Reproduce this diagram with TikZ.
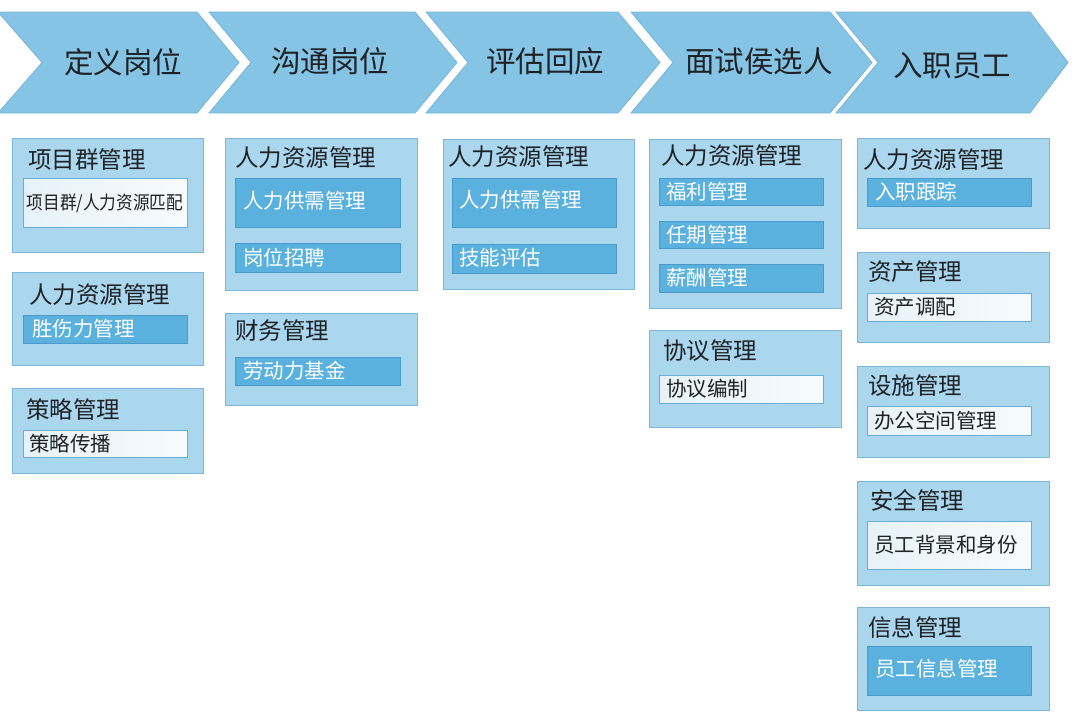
\documentclass[tikz,border=0pt]{standalone}
\usepackage{fontspec}
\setmainfont{Noto Sans CJK SC}
\definecolor{chev}{HTML}{86C4E5}
\definecolor{chevline}{HTML}{78B6D9}
\definecolor{outerfill}{HTML}{AAD6EE}
\definecolor{outerline}{HTML}{7DB6D6}
\definecolor{darkfill}{HTML}{5BB1DD}
\definecolor{darkline}{HTML}{4A9ACB}
\definecolor{lightfillA}{HTML}{E6F2F9}
\definecolor{lightfillB}{HTML}{F7FBFD}
\definecolor{lightline}{HTML}{6AAED6}
\definecolor{ink}{HTML}{1E2226}
\tikzset{
  chevshape/.style={fill=chev, draw=chevline, line width=0.8pt},
  chevtext/.style={font=\fontsize{29.5}{32}\selectfont, text=ink, inner sep=0pt},
  outerbox/.style={draw=outerline, fill=outerfill, line width=1.2pt, anchor=north west, inner sep=0pt},
  darkbox/.style={draw=darkline, fill=darkfill, line width=1pt, anchor=north west, inner sep=0pt},
  lightbox/.style={draw=lightline, left color=lightfillA, right color=lightfillB, line width=1pt, anchor=north west, inner sep=0pt},
  titletext/.style={anchor=west, font=\fontsize{23.5}{26}\selectfont, text=ink, inner sep=0pt},
  darktext/.style={anchor=west, font=\fontsize{20.5}{23}\selectfont, text=white, inner sep=0pt},
  lighttext/.style={anchor=west, font=\fontsize{20.5}{23}\selectfont, text=ink, inner sep=0pt},
}
\newcommand{\bx}[6]{\node[#1, minimum width=#5pt, minimum height=#6pt] (#2) at (#3,#4) {};}
\newcommand{\chevron}[3]{%
  \path[chevshape] (#1,12) -- (#2,12) -- (#3,62.5) -- (#2,113) -- (#1,113) -- ({#1+42},62.5) -- cycle;}
\begin{document}
\begin{tikzpicture}[x=1pt,y=-1pt]
\useasboundingbox[fill=white] (0,0) rectangle (1080,718);
% chevrons
\path[chevshape] (-2,12) -- (197,12) -- (239,62.5) -- (197,113) -- (-2,113) -- (42,62.5) -- cycle;
\chevron{209}{415}{457}
\chevron{426}{618}{660}
\chevron{631}{830}{872}
\chevron{836}{1030}{1068}
\node[chevtext] (c1) at (123,62) {定义岗位};
\node[chevtext] (c2) at (330,61) {沟通岗位};
\node[chevtext] (c3) at (545,61) {评估回应};
\node[chevtext] (c4) at (759,61) {面试侯选人};
\node[chevtext] (c5) at (952,66) {入职员工};
% column 1
\bx{outerbox}{b11}{12}{138}{191}{114}
\node[titletext] (t11) at (28,160) {项目群管理};
\bx{lightbox}{i11}{23}{178}{164}{49}
\node[font=\fontsize{18.5}{21}\selectfont, text=ink, inner sep=0pt] (s11) at (105,203) {\scalebox{0.9}[1]{项目群/人力资源匹配}};
\bx{outerbox}{b12}{12}{272}{191}{93}
\node[titletext] (t12) at (29,295) {人力资源管理};
\bx{darkbox}{i12}{23}{315}{164}{28}
\node[darktext] (s12) at (32,329) {胜伤力管理};
\bx{outerbox}{b13}{12}{388}{191}{85}
\node[titletext] (t13) at (26,410) {策略管理};
\bx{lightbox}{i13}{23}{430}{164}{27}
\node[lighttext] (s13) at (29,443.5) {策略传播};
% column 2
\bx{outerbox}{b21}{225}{138}{192}{152}
\node[titletext] (t21) at (235,158) {人力资源管理};
\bx{darkbox}{i21}{235}{178}{165}{49}
\node[darktext] (s21) at (243,201) {人力供需管理};
\bx{darkbox}{i22}{235}{243}{165}{29}
\node[darktext] (s22) at (243,257.5) {岗位招聘};
\bx{outerbox}{b22}{225}{313}{192}{92}
\node[titletext] (t22) at (235,331) {财务管理};
\bx{darkbox}{i23}{235}{357}{165}{28}
\node[darktext] (s23) at (243,371) {劳动力基金};
% column 3
\bx{outerbox}{b31}{443}{139}{191}{150}
\node[titletext] (t31) at (448,157) {人力资源管理};
\bx{darkbox}{i31}{452}{178}{164}{49}
\node[darktext] (s31) at (459,200) {人力供需管理};
\bx{darkbox}{i32}{452}{244}{164}{29}
\node[darktext] (s32) at (459,258) {技能评估};
% column 4
\bx{outerbox}{b41}{649}{139}{192}{169}
\node[titletext] (t41) at (661,156) {人力资源管理};
\bx{darkbox}{i41}{659}{178}{164}{27}
\node[darktext] (s41) at (666,191.5) {福利管理};
\bx{darkbox}{i42}{659}{221}{164}{27}
\node[darktext] (s42) at (666,234.5) {任期管理};
\bx{darkbox}{i43}{659}{264}{164}{28}
\node[darktext] (s43) at (666,278) {薪酬管理};
\bx{outerbox}{b42}{649}{330}{192}{97}
\node[titletext] (t42) at (663,351) {协议管理};
\bx{lightbox}{i44}{659}{375}{164}{28}
\node[lighttext] (s44) at (666,389) {协议编制};
% column 5
\bx{outerbox}{b51}{857}{138}{192}{90}
\node[titletext] (t51) at (863,160) {人力资源管理};
\bx{darkbox}{i51}{867}{178}{164}{28}
\node[darktext] (s51) at (875,192) {入职跟踪};
\bx{outerbox}{b52}{857}{252}{192}{90}
\node[titletext] (t52) at (868,272) {资产管理};
\bx{lightbox}{i52}{867}{293}{164}{28}
\node[lighttext] (s52) at (874,307) {资产调配};
\bx{outerbox}{b53}{857}{366}{192}{91}
\node[titletext] (t53) at (868,386) {设施管理};
\bx{lightbox}{i53}{867}{406}{164}{29}
\node[lighttext] (s53) at (874,420.5) {办公空间管理};
\bx{outerbox}{b54}{857}{481}{192}{104}
\node[titletext] (t54) at (870,500) {安全管理};
\bx{lightbox}{i54}{867}{521}{164}{48}
\node[lighttext] (s54) at (874,545) {员工背景和身份};
\bx{outerbox}{b55}{857}{607}{192}{103}
\node[titletext] (t55) at (868,627) {信息管理};
\bx{darkbox}{i55}{867}{646}{164}{49}
\node[darktext] (s55) at (875,669) {员工信息管理};
\end{tikzpicture}
\end{document}
